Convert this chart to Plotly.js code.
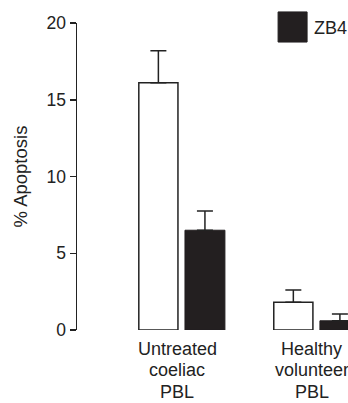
<!DOCTYPE html>
<html>
<head>
<meta charset="utf-8">
<script src="https://cdn.plot.ly/plotly-3.0.1.min.js"></script>
<style>html,body{margin:0;padding:0;background:#fff;}#chart{width:348px;height:403px;}</style>
</head>
<body>
<div id="chart"></div>
<script>
// Data
var groupPositions = [0, 1];
var groupLabels = [["Untreated", "coeliac", "PBL"], ["Healthy", "volunteer", "PBL"]];
var controlValues = [16.1, 1.8];
var controlErrors = [2.1, 0.8];
var zb4Values = [6.5, 0.6];
var zb4Errors = [1.25, 0.45];
var zb4Name = "ZB4";
var yTicks = [0, 5, 10, 15, 20];
var zeroErr = [0, 0];

var font = "Liberation Sans, Arial, Helvetica, sans-serif";
var textColor = "#222";

var traces = [
  {
    type: "bar", x: groupPositions, y: controlValues, name: "Control",
    width: 0.29, offset: -0.32, showlegend: false,
    marker: {color: "#ffffff", line: {color: "#222", width: 1.5}},
    error_y: {type: "data", symmetric: false, array: controlErrors, arrayminus: zeroErr,
              color: "#222", thickness: 1.5, width: 8}
  },
  {
    type: "bar", x: groupPositions, y: zb4Values, name: zb4Name,
    width: 0.296, offset: 0.022, showlegend: false,
    marker: {color: "#231f20", line: {color: "#231f20", width: 1}},
    error_y: {type: "data", symmetric: false, array: zb4Errors, arrayminus: zeroErr,
              color: "#222", thickness: 1.5, width: 8}
  }
];

var annotations = [
  {xref: "paper", yref: "paper", x: 0.866, y: 0.985, xanchor: "left", yanchor: "middle",
   text: zb4Name, showarrow: false, font: {family: font, size: 18, color: textColor}}
];
groupLabels.forEach(function (lines, gi) {
  lines.forEach(function (line, li) {
    annotations.push({
      xref: "x", yref: "paper", x: groupPositions[gi], y: 0,
      xanchor: "center", yanchor: "middle", xshift: -5, yshift: -19 - li * 21.3,
      text: line, showarrow: false,
      font: {family: font, size: 18, color: textColor}
    });
  });
});

var layout = {
  width: 348, height: 403,
  margin: {l: 77, r: 0, t: 23, b: 73, pad: 0},
  paper_bgcolor: "#fff", plot_bgcolor: "#fff",
  font: {family: font, size: 17, color: textColor},
  showlegend: false,
  barmode: "overlay",
  xaxis: {
    range: [-0.778, 1.23],
    showticklabels: false,
    showline: false, showgrid: false, zeroline: false, ticks: "",
    fixedrange: true
  },
  yaxis: {
    range: [0, 20],
    tickvals: yTicks,
    showline: true, linecolor: "#222", linewidth: 1.5,
    ticks: "outside", ticklen: 6, tickwidth: 1.5, tickcolor: "#222",
    showgrid: false, zeroline: false,
    tickfont: {family: font, size: 17.5, color: textColor},
    title: {text: "% Apoptosis", font: {family: font, size: 18.5, color: textColor}, standoff: 14}
  },
  shapes: [
    {type: "rect", xref: "paper", yref: "paper", x0: 0.742, x1: 0.849, y0: 0.938, y1: 1.036,
     fillcolor: "#231f20", line: {color: "#231f20", width: 1}}
  ],
  annotations: annotations
};

Plotly.newPlot("chart", traces, layout, {displayModeBar: false, staticPlot: true});
</script>
</body>
</html>
